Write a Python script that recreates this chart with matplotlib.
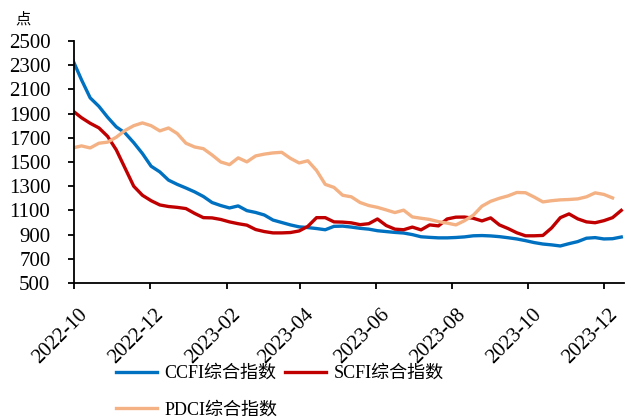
import matplotlib
matplotlib.use("Agg")
import matplotlib.pyplot as plt
import matplotlib.dates as mdates
import matplotlib.transforms as mtransforms
import pandas as pd

plt.rcParams['font.family'] = ['Liberation Serif', 'Noto Sans CJK SC', 'DejaVu Sans']

# weekly readings, starting 2022-09-30
weeks = pd.date_range("2022-09-30", periods=64, freq="7D")

ccfi = [2343, 2180, 2030, 1960, 1870, 1790, 1740, 1660, 1570, 1465,
        1418, 1350, 1315, 1285, 1253, 1215, 1165, 1140, 1120, 1137,
        1098, 1083, 1062, 1020, 1000, 980, 964, 958, 950, 940,
        968, 970, 962, 952, 945, 932, 925, 918, 913, 900,
        882, 877, 873, 873, 876, 881, 890, 892, 889, 883,
        874, 864, 850, 834, 822, 815, 806, 825, 842, 870,
        875, 864, 866, 880]

scfi = [1923, 1866, 1820, 1782, 1712, 1600, 1450, 1300, 1225, 1180,
        1145, 1132, 1125, 1115, 1075, 1040, 1038, 1025, 1005, 990,
        978, 942, 925, 914, 914, 917, 930, 968, 1040, 1040,
        1005, 1003, 997, 982, 990, 1029, 975, 945, 940, 962,
        939, 980, 972, 1029, 1044, 1045, 1035, 1013, 1038, 980,
        950, 915, 890, 890, 893, 955, 1040, 1071, 1030, 1005,
        998, 1015, 1040, 1100]

pdci = [1616, 1633, 1616, 1655, 1664, 1705, 1760, 1800, 1823, 1800,
        1757, 1781, 1735, 1655, 1624, 1610, 1558, 1500, 1478, 1534,
        1501, 1550, 1565, 1575, 1580, 1530, 1492, 1510, 1430, 1315,
        1290, 1225, 1212, 1165, 1140, 1125, 1104, 1082, 1102, 1046,
        1035, 1025, 1007, 995, 980, 1015, 1060, 1135, 1175, 1200,
        1220, 1248, 1246, 1210, 1170, 1180, 1187, 1190, 1195, 1212,
        1245, 1232, 1203]

fig = plt.figure(figsize=(6.25, 4.19), dpi=100)
ax = fig.add_axes([0.1184, 0.3246, 0.8796, 0.5776])

l1, = ax.plot(weeks, ccfi, color="#0070C0", lw=2.4, label="CCFI综合指数")
l2, = ax.plot(weeks, scfi, color="#C00000", lw=2.4, label="SCFI综合指数")
l3, = ax.plot(weeks[:len(pdci)], pdci, color="#F4B183", lw=2.4, label="PDCI综合指数")

ax.set_xlim(pd.Timestamp("2022-10-01"), pd.Timestamp("2023-12-17"))
ax.set_ylim(500, 2500)
ax.set_yticks(range(500, 2501, 200))
ax.xaxis.set_major_locator(mdates.MonthLocator(bymonth=[2, 4, 6, 8, 10, 12]))
ax.xaxis.set_major_formatter(mdates.DateFormatter("%Y-%m"))

for s in ["top", "right"]:
    ax.spines[s].set_visible(False)
for s in ["left", "bottom"]:
    ax.spines[s].set_linewidth(1.3)
ax.tick_params(axis="both", direction="out", length=4, width=1.3, labelsize=15)
ax.tick_params(axis="y", pad=13)
ax.tick_params(axis="x", pad=12)
shift = mtransforms.ScaledTranslation(4 / 100, 0, fig.dpi_scale_trans)
for lab in ax.get_xticklabels():
    lab.set_rotation(45)
    lab.set_ha("right")
    lab.set_rotation_mode("anchor")
    lab.set_transform(lab.get_transform() + shift)

fig.text(0.024, 0.953, "点", fontsize=11, ha="left", va="center")

# row-wise order: CCFI, SCFI / PDCI
fig.legend([l1, l3, l2], [l1.get_label(), l3.get_label(), l2.get_label()],
           loc="upper left", bbox_to_anchor=(0.185, 0.129), ncol=2, frameon=False,
           fontsize=13, handlelength=2.3, handletextpad=0.4, columnspacing=0.4,
           borderpad=0, borderaxespad=0, labelspacing=1.1)

fig.savefig("out.png", dpi=100)
